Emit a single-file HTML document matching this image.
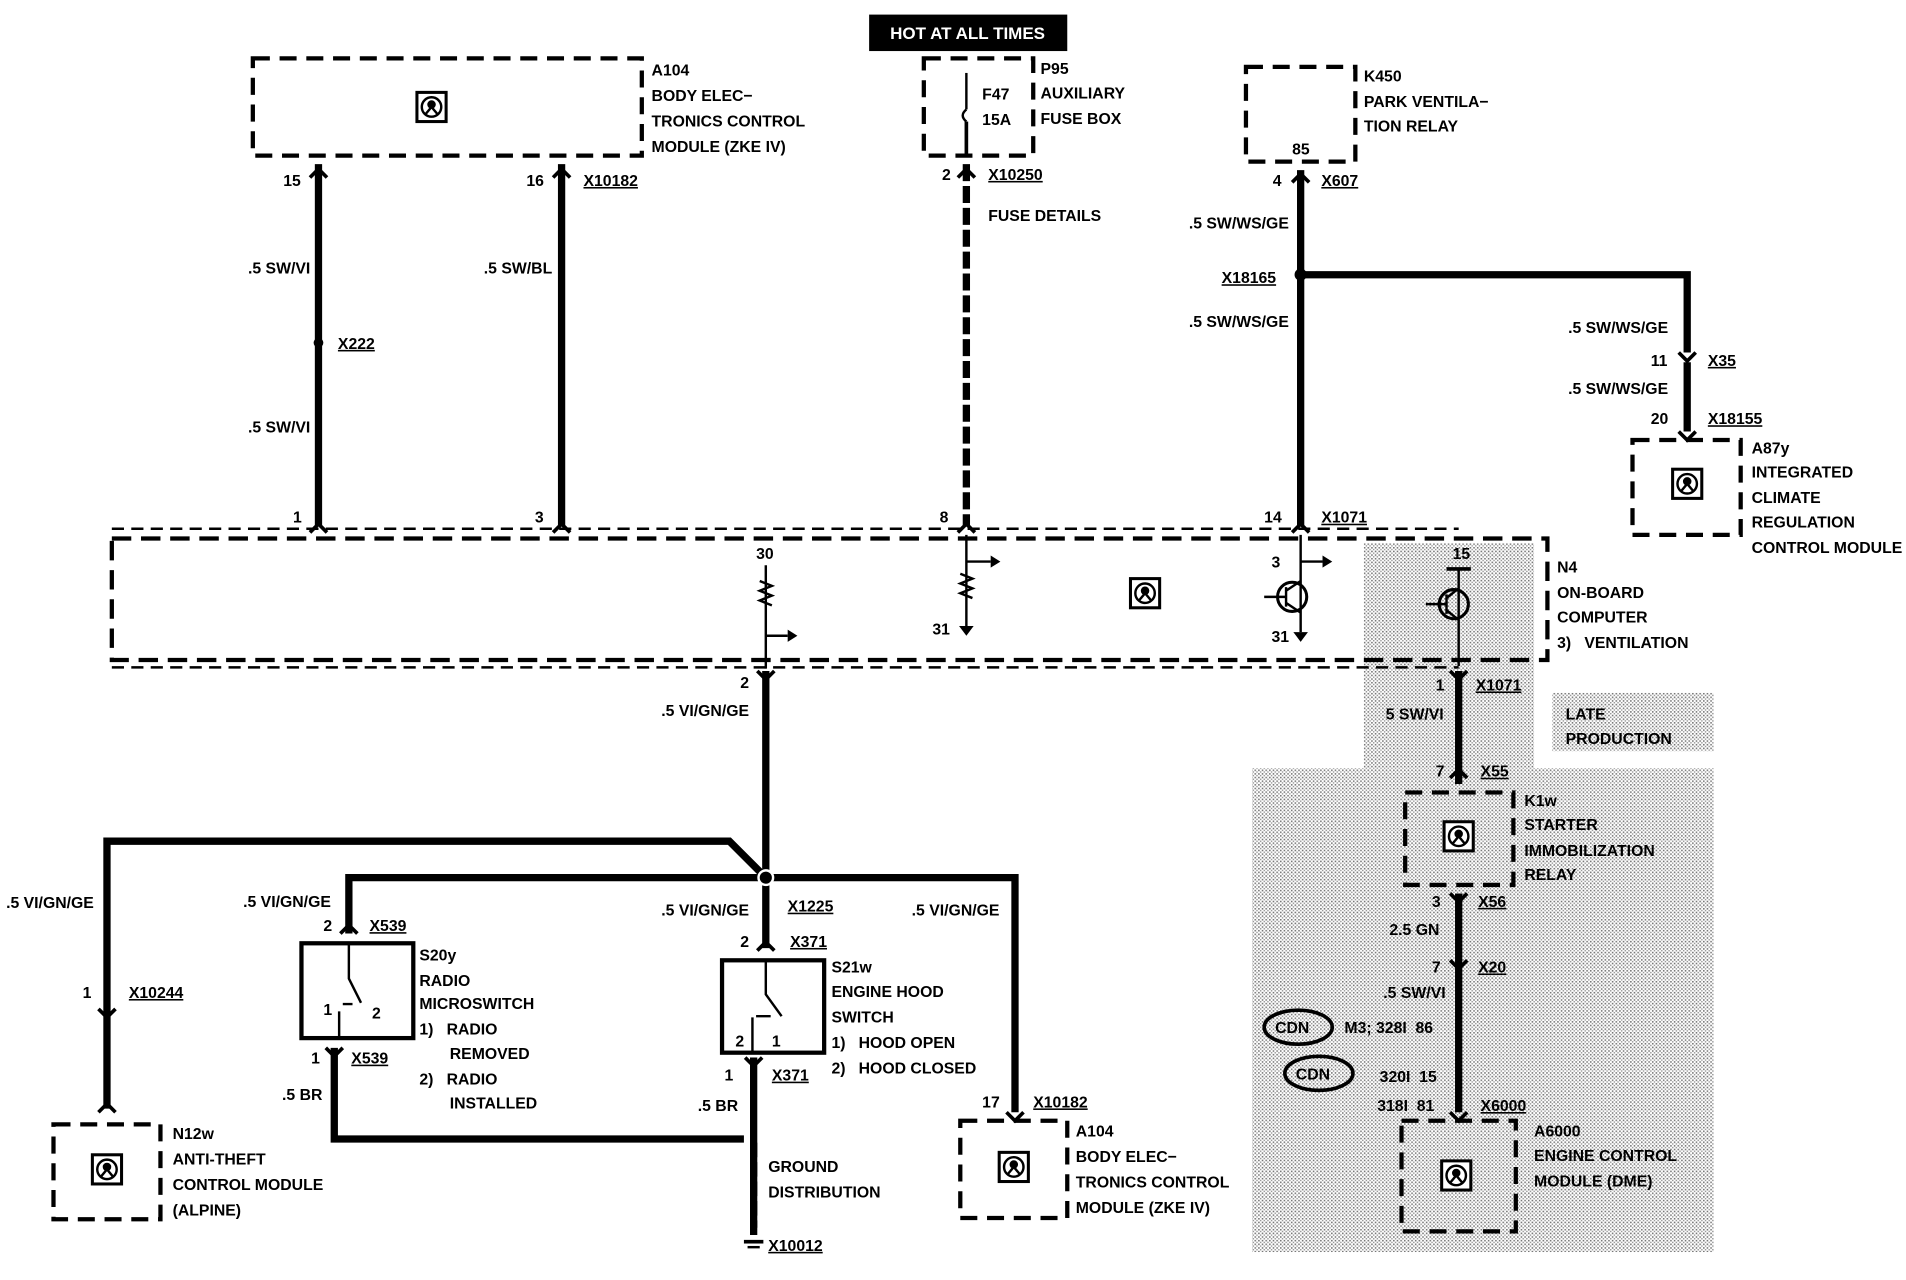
<!DOCTYPE html>
<html><head><meta charset="utf-8"><style>
html,body{margin:0;padding:0;background:#fff;width:1906px;height:1280px;overflow:hidden}
svg{display:block}
text{font-family:"Liberation Sans",sans-serif;font-size:13px;font-weight:bold;fill:#000}
.u{text-decoration:underline}
</style></head><body>
<svg width="1906" height="1280" viewBox="0 0 1568 1053" xmlns="http://www.w3.org/2000/svg">
<defs>
<pattern id="dots" width="3" height="3" patternUnits="userSpaceOnUse">
<rect width="3" height="3" fill="#fff"/><rect width="1.3" height="1.3" fill="#777"/><rect x="1.5" y="1.5" width="1.2" height="1.2" fill="#999"/>
</pattern>
<g id="ico"><rect x="-12" y="-12" width="24" height="24" fill="#fff" stroke="#000" stroke-width="2.5"/><circle cx="0" cy="0" r="8" fill="none" stroke="#000" stroke-width="2"/><circle cx="0" cy="-2" r="3.5" fill="#000"/><path d="M-5 6 L0 0 L5 6" stroke="#000" stroke-width="2" fill="none"/></g>
</defs>
<rect x="1122" y="447" width="140" height="185" fill="url(#dots)"/>
<rect x="1030" y="632" width="380" height="398" fill="url(#dots)"/>
<rect x="1277" y="570" width="133" height="48" fill="url(#dots)"/>

<g fill="none" stroke="#000">
<rect x="208" y="48" width="320" height="80" stroke-width="3.5" stroke-dasharray="14 8"/>
<rect x="760" y="48" width="90" height="80" stroke-width="3.5" stroke-dasharray="14 8"/>
<rect x="1025" y="55" width="90" height="78" stroke-width="3.5" stroke-dasharray="14 8"/>
<rect x="1343" y="362" width="89" height="78" stroke-width="3.5" stroke-dasharray="14 8"/>
<line x1="92" y1="435" x2="1200" y2="435" stroke-width="2" stroke-dasharray="10 6"/>
<rect x="92" y="443" width="1181" height="100" stroke-width="3.5" stroke-dasharray="16 8"/>
<line x1="92" y1="549" x2="1200" y2="549" stroke-width="2" stroke-dasharray="10 6"/>
<line x1="262" y1="135" x2="262" y2="432" stroke-width="6"/>
<line x1="462" y1="135" x2="462" y2="432" stroke-width="6"/>
<line x1="795" y1="135" x2="795" y2="432" stroke-width="6" stroke-dasharray="14 4"/>
<line x1="795" y1="60" x2="795" y2="90" stroke-width="2"/>
<line x1="795" y1="100" x2="795" y2="128" stroke-width="3"/>
<line x1="1070" y1="140" x2="1070" y2="432" stroke-width="6"/>
<polyline points="1070,226 1388,226 1388,290" stroke-width="6"/>
<line x1="1388" y1="298" x2="1388" y2="355" stroke-width="6"/>
<line x1="795" y1="440" x2="795" y2="515" stroke-width="2"/>
<path d="M795 462 H815 M790 472 l10 4 l-10 4 l10 4 l-10 4 l10 4" stroke-width="2"/>
<line x1="630" y1="465" x2="630" y2="550" stroke-width="2"/>
<path d="M625 478 l10 4 l-10 4 l10 4 l-10 4 l10 4 M630 523 H648" stroke-width="2"/>
<line x1="1070" y1="440" x2="1070" y2="520" stroke-width="2"/>
<path d="M1070 462 H1088" stroke-width="2"/>
<circle cx="1063" cy="491" r="12" stroke-width="2.5"/>
<path d="M1040 491 H1058 M1058 483 V499 M1058 486 L1070 478 M1058 496 L1070 504" stroke-width="2"/>
<line x1="1200" y1="468" x2="1200" y2="548" stroke-width="2"/>
<path d="M1190 468 H1210" stroke-width="3"/>
<circle cx="1196" cy="497" r="12" stroke-width="2.5"/>
<path d="M1173 497 H1190 M1190 489 V505 M1190 492 L1200 484 M1190 502 L1200 510" stroke-width="2"/>
<line x1="630" y1="552" x2="630" y2="780" stroke-width="6"/>
<polyline points="88,912 88,692 600,692 630,722" stroke-width="6"/>
<polyline points="287,768 287,722 835,722 835,915" stroke-width="6"/>
<polyline points="275,862 275,937 612,937" stroke-width="6"/>
<line x1="620" y1="870" x2="620" y2="1010" stroke-width="6"/>
<line x1="620" y1="940" x2="620" y2="1020" stroke-width="6" stroke-dasharray="12 4"/>
<line x1="1200" y1="552" x2="1200" y2="645" stroke-width="6"/>
<line x1="1200" y1="735" x2="1200" y2="915" stroke-width="6"/>
<rect x="248" y="776" width="92" height="78" stroke-width="3.5"/>
<path d="M287 776 V805 L297 825 M279 832 V854 M282 826 H290" stroke-width="2"/>
<rect x="594" y="790" width="84" height="76" stroke-width="3.5"/>
<path d="M630 790 V818 L643 836 M619 837 V866 M622 836 H634" stroke-width="2"/>
<rect x="44" y="925" width="88" height="78" stroke-width="3.5" stroke-dasharray="14 8"/>
<rect x="790" y="922" width="88" height="80" stroke-width="3.5" stroke-dasharray="14 8"/>
<rect x="1156" y="652" width="89" height="76" stroke-width="3.5" stroke-dasharray="14 8"/>
<rect x="1153" y="922" width="94" height="91" stroke-width="3.5" stroke-dasharray="14 8"/>
<ellipse cx="1068" cy="845" rx="28" ry="14" stroke-width="3"/>
<ellipse cx="1085" cy="883" rx="28" ry="14" stroke-width="3"/>
<g stroke-width="3">
<path d="M255 146 l7 -7 l7 7 M455 146 l7 -7 l7 7 M788 146 l7 -7 l7 7 M1063 150 l7 -7 l7 7"/>
<path d="M255 438 l7 -7 l7 7 M455 438 l7 -7 l7 7 M788 438 l7 -7 l7 7 M1063 438 l7 -7 l7 7"/>
<path d="M1381 290 l7 7 l7 -7 M1381 355 l7 7 l7 -7"/>
<path d="M623 552 l7 7 l7 -7 M1193 552 l7 7 l7 -7 M1193 640 l7 -7 l7 7 M1193 735 l7 7 l7 -7 M1193 790 l7 7 l7 -7 M1193 915 l7 7 l7 -7"/>
<path d="M280 768 l7 -7 l7 7 M623 782 l7 -7 l7 7 M268 862 l7 7 l7 -7 M613 870 l7 7 l7 -7 M81 830 l7 7 l7 -7 M81 915 l7 -7 l7 7 M828 915 l7 7 l7 -7"/>
</g>
</g>
<g fill="#000">
<circle cx="262" cy="282" r="4"/><circle cx="1070" cy="226" r="5"/>
<circle cx="630" cy="722" r="6" stroke="#fff" stroke-width="2"/>
<path d="M795 90 q-6 5 0 10" stroke="#000" fill="none" stroke-width="2"/>
<path d="M789 515 h12 l-6 8z"/><path d="M1064 520 h12 l-6 8z"/>
<path d="M815 457 l8 5 l-8 5z"/><path d="M648 518 l8 5 l-8 5z"/><path d="M1088 457 l8 5 l-8 5z"/>
<rect x="612" y="1020" width="16" height="3"/><rect x="615" y="1025" width="10" height="2"/>
</g>
<use href="#ico" x="355" y="88"/><use href="#ico" x="1388" y="398"/><use href="#ico" x="942" y="488"/>
<use href="#ico" x="1200" y="688"/><use href="#ico" x="1198" y="967"/>
<use href="#ico" x="88" y="962"/><use href="#ico" x="834" y="960"/>

<rect x="715" y="12" width="163" height="30" fill="#000"/>
<text x="796" y="32" text-anchor="middle" style="fill:#fff;font-size:14px">HOT AT ALL TIMES</text>

<text x="536" y="62">A104</text><text x="536" y="83">BODY ELEC−</text><text x="536" y="104">TRONICS CONTROL</text><text x="536" y="125">MODULE (ZKE IV)</text>
<text x="808" y="82">F47</text><text x="808" y="103">15A</text>
<text x="856" y="61">P95</text><text x="856" y="81">AUXILIARY</text><text x="856" y="102">FUSE BOX</text>
<text x="1122" y="67">K450</text><text x="1122" y="88">PARK VENTILA−</text><text x="1122" y="108">TION RELAY</text><text x="1063" y="127">85</text>
<text x="233" y="153">15</text><text x="433" y="153">16</text><text x="480" y="153" class="u">X10182</text>
<text x="775" y="148">2</text><text x="813" y="148" class="u">X10250</text><text x="813" y="182">FUSE DETAILS</text>
<text x="1047" y="153">4</text><text x="1087" y="153" class="u">X607</text>
<text x="978" y="188">.5 SW/WS/GE</text><text x="1005" y="233" class="u">X18165</text><text x="978" y="269">.5 SW/WS/GE</text>
<text x="1290" y="274">.5 SW/WS/GE</text><text x="1358" y="301">11</text><text x="1405" y="301" class="u">X35</text>
<text x="1290" y="324">.5 SW/WS/GE</text><text x="1358" y="349">20</text><text x="1405" y="349" class="u">X18155</text>
<text x="1441" y="373">A87y</text><text x="1441" y="393">INTEGRATED</text><text x="1441" y="414">CLIMATE</text><text x="1441" y="434">REGULATION</text><text x="1441" y="455">CONTROL MODULE</text>
<text x="204" y="225">.5 SW/VI</text><text x="398" y="225">.5 SW/BL</text><text x="278" y="287" class="u">X222</text><text x="204" y="356">.5 SW/VI</text>
<text x="241" y="430">1</text><text x="440" y="430">3</text><text x="773" y="430">8</text><text x="1040" y="430">14</text><text x="1087" y="430" class="u">X1071</text>
<text x="622" y="460">30</text><text x="767" y="522">31</text><text x="1046" y="467">3</text><text x="1046" y="528">31</text><text x="1195" y="460">15</text>
<text x="1281" y="471">N4</text><text x="1281" y="492">ON-BOARD</text><text x="1281" y="512">COMPUTER</text>
<text x="1281" y="533">3)&#160;&#160;&#160;VENTILATION</text>
<text x="609" y="566">2</text><text x="544" y="589">.5 VI/GN/GE</text>
<text x="1181" y="568">1</text><text x="1214" y="568" class="u">X1071</text><text x="1140" y="592">5 SW/VI</text>
<text x="1288" y="592">LATE</text><text x="1288" y="612">PRODUCTION</text>
<text x="1181" y="639">7</text><text x="1218" y="639" class="u">X55</text>
<text x="1254" y="663">K1w</text><text x="1254" y="683">STARTER</text><text x="1254" y="704">IMMOBILIZATION</text><text x="1254" y="724">RELAY</text>
<text x="1178" y="746">3</text><text x="1216" y="746" class="u">X56</text><text x="1143" y="769">2.5 GN</text>
<text x="1178" y="800">7</text><text x="1216" y="800" class="u">X20</text><text x="1138" y="821">.5 SW/VI</text>
<text x="1049" y="850">CDN</text><text x="1106" y="850">M3; 328I&#160;&#160;86</text>
<text x="1066" y="888">CDN</text><text x="1135" y="890">320I&#160;&#160;15</text>
<text x="1133" y="914">318I&#160;&#160;81</text><text x="1218" y="914" class="u">X6000</text>
<text x="1262" y="935">A6000</text><text x="1262" y="955">ENGINE CONTROL</text><text x="1262" y="976">MODULE (DME)</text>
<text x="5" y="747">.5 VI/GN/GE</text><text x="200" y="746">.5 VI/GN/GE</text><text x="544" y="753">.5 VI/GN/GE</text><text x="648" y="750" class="u">X1225</text><text x="750" y="753">.5 VI/GN/GE</text>
<text x="266" y="766">2</text><text x="304" y="766" class="u">X539</text>
<text x="345" y="790">S20y</text><text x="345" y="811">RADIO</text><text x="345" y="830">MICROSWITCH</text><text x="345" y="851">1)&#160;&#160;&#160;RADIO</text><text x="370" y="871">REMOVED</text><text x="345" y="892">2)&#160;&#160;&#160;RADIO</text><text x="370" y="912">INSTALLED</text>
<text x="266" y="835">1</text><text x="306" y="838">2</text>
<text x="256" y="875">1</text><text x="289" y="875" class="u">X539</text><text x="232" y="905">.5 BR</text>
<text x="609" y="779">2</text><text x="650" y="779" class="u">X371</text>
<text x="684" y="800">S21w</text><text x="684" y="820">ENGINE HOOD</text><text x="684" y="841">SWITCH</text><text x="684" y="862">1)&#160;&#160;&#160;HOOD OPEN</text><text x="684" y="883">2)&#160;&#160;&#160;HOOD CLOSED</text>
<text x="605" y="861">2</text><text x="635" y="861">1</text>
<text x="596" y="889">1</text><text x="635" y="889" class="u">X371</text><text x="574" y="914">.5 BR</text>
<text x="68" y="821">1</text><text x="106" y="821" class="u">X10244</text>
<text x="808" y="911">17</text><text x="850" y="911" class="u">X10182</text>
<text x="142" y="937">N12w</text><text x="142" y="958">ANTI-THEFT</text><text x="142" y="979">CONTROL MODULE</text><text x="142" y="1000">(ALPINE)</text>
<text x="885" y="935">A104</text><text x="885" y="956">BODY ELEC−</text><text x="885" y="977">TRONICS CONTROL</text><text x="885" y="998">MODULE (ZKE IV)</text>
<text x="632" y="964">GROUND</text><text x="632" y="985">DISTRIBUTION</text><text x="632" y="1029" class="u">X10012</text>
</svg>
</body></html>
